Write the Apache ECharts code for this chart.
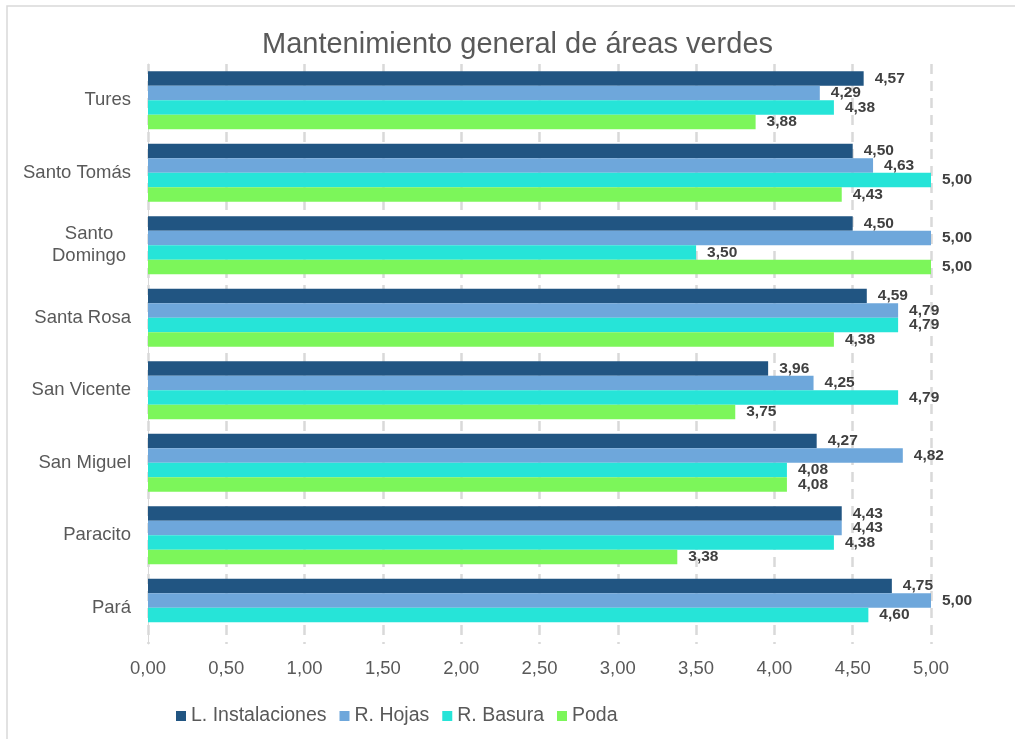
<!DOCTYPE html>
<html>
<head>
<meta charset="utf-8">
<script src="https://cdn.jsdelivr.net/npm/echarts@6/dist/echarts.min.js"></script>
<style>html,body{margin:0;padding:0;background:#fff}#c{width:1015px;height:739px}</style>
</head>
<body>
<div id="c"></div>
<script>
const categories = ['Tures', 'Santo Tomás', 'Santo Domingo', 'Santa Rosa', 'San Vicente', 'San Miguel', 'Paracito', 'Pará'];
const seriesNames = ['L. Instalaciones', 'R. Hojas', 'R. Basura', 'Poda'];
const lInstalaciones = [4.57, 4.50, 4.50, 4.59, 3.96, 4.27, 4.43, 4.75];
const rHojas = [4.29, 4.63, 5.00, 4.79, 4.25, 4.82, 4.43, 5.00];
const rBasura = [4.38, 5.00, 3.50, 4.79, 4.79, 4.08, 4.38, 4.60];
const poda = [3.88, 4.43, 5.00, 4.38, 3.75, 4.08, 3.38, null];
const xTicks = { min: 0, max: 5, interval: 0.5 };
const colors = ['#215582', '#6EA7DB', '#26E4D8', '#7CF65A'];

const fmt = v => v.toFixed(2).replace('.', ',');
const allData = [lInstalaciones, rHojas, rBasura, poda];

const chart = echarts.init(document.getElementById('c'));
chart.setOption({
  animation: false,
  textStyle: { fontFamily: 'Liberation Sans, Arial, sans-serif' },
  graphic: [{
    type: 'rect', shape: { x: 7, y: 6, width: 1100, height: 800 },
    style: { fill: 'none', stroke: '#d9d9d9', lineWidth: 1.5 }, silent: true
  }],
  title: {
    text: 'Mantenimiento general de áreas verdes',
    left: 257, top: 25,
    textStyle: { fontSize: 29, fontWeight: 'normal', color: '#595959', fontFamily: 'Liberation Sans, Arial, sans-serif' }
  },
  legend: {
    data: seriesNames, left: 171, top: 701,
    icon: 'rect', itemWidth: 10, itemHeight: 10, itemGap: 13,
    textStyle: { fontSize: 19.5, color: '#595959' }
  },
  grid: { left: 148, right: 84, top: 64, bottom: 95, containLabel: false },
  xAxis: {
    type: 'value', min: xTicks.min, max: xTicks.max, interval: xTicks.interval,
    axisLine: { show: false }, axisTick: { show: false },
    axisLabel: { formatter: v => fmt(v), fontSize: 18.5, color: '#595959', margin: 15 },
    splitLine: { show: true, lineStyle: { color: '#d9d9d9', width: 2.5, type: [10, 7] } }
  },
  yAxis: {
    type: 'category', data: categories, inverse: true,
    axisLine: { show: true, lineStyle: { color: '#d9d9d9', width: 1 } },
    axisTick: { show: false },
    axisLabel: {
      fontSize: 18.5, color: '#595959', margin: 17,
      formatter: v => v === 'Santo Domingo' ? '{c|Santo}\n{c|Domingo}' : v,
      rich: { c: { width: 84, align: 'center', fontSize: 18.5, color: '#595959', lineHeight: 22 } }
    }
  },
  series: seriesNames.map((name, i) => ({
    name, type: 'bar', data: allData[i],
    barGap: 0, barCategoryGap: '20%',
    itemStyle: { color: colors[i] },
    label: {
      show: true, position: 'right', distance: 11,
      formatter: p => p.value == null ? '' : fmt(p.value),
      fontSize: 15.5, fontWeight: 'bold', color: '#404040'
    }
  }))
});
</script>
</body>
</html>
